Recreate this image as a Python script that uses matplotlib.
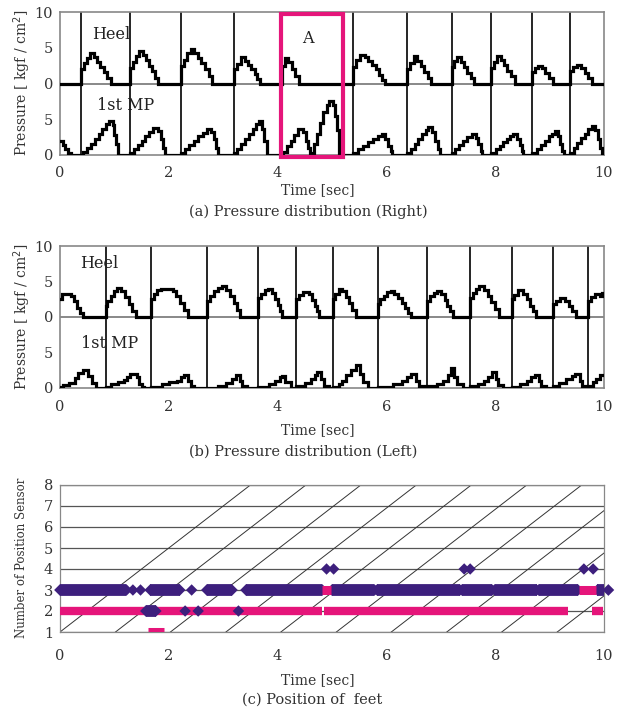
import matplotlib
matplotlib.use("Agg")
import matplotlib.pyplot as plt
from matplotlib.patches import Rectangle

plt.rcParams['font.family'] = ['DejaVu Serif']

# ---------------- data ----------------
# (a) Right foot
right_events = [0.38, 1.29, 2.22, 3.20, 5.39, 6.38, 7.20, 7.93, 8.68, 9.37]
right_heel_t = [0.00, 0.38, 0.44, 0.50, 0.55, 0.62, 0.68, 0.74, 0.80, 0.86, 0.94,
                1.29, 1.34, 1.40, 1.45, 1.52, 1.58, 1.64, 1.70, 1.75, 1.80,
                2.22, 2.28, 2.34, 2.40, 2.47, 2.54, 2.60, 2.67, 2.73, 2.80,
                3.20, 3.26, 3.32, 3.40, 3.46, 3.52, 3.58, 3.63, 3.68,
                4.09, 4.14, 4.20, 4.26, 4.32, 4.40,
                5.39, 5.45, 5.51, 5.60, 5.67, 5.74, 5.80, 5.86, 5.92, 5.97,
                6.38, 6.44, 6.50, 6.57, 6.63, 6.70, 6.76, 6.82,
                7.20, 7.25, 7.30, 7.37, 7.43, 7.49, 7.55, 7.61,
                7.93, 7.98, 8.03, 8.10, 8.16, 8.22, 8.29, 8.37,
                8.68, 8.73, 8.78, 8.86, 8.92, 8.98, 9.06,
                9.37, 9.43, 9.50, 9.58, 9.65, 9.71, 9.78, 10.0]
right_heel_v = [0, 2.0, 2.8, 3.6, 4.3, 3.7, 3.0, 2.3, 1.6, 0.8, 0,
                2.2, 3.0, 3.9, 4.6, 4.0, 3.3, 2.5, 1.7, 0.8, 0,
                2.4, 3.3, 4.2, 4.8, 4.3, 3.6, 2.8, 2.0, 1.0, 0,
                2.0, 2.7, 3.7, 3.2, 2.6, 2.0, 1.3, 0.6, 0,
                2.5, 3.6, 3.0, 2.0, 1.0, 0,
                2.3, 3.3, 4.0, 3.7, 3.2, 2.6, 2.0, 1.2, 0.5, 0,
                2.0, 2.9, 3.8, 3.1, 2.4, 1.6, 0.8, 0,
                2.3, 3.1, 3.7, 3.0, 2.3, 1.5, 0.7, 0,
                2.2, 3.0, 3.9, 3.3, 2.6, 1.8, 1.0, 0,
                1.6, 2.2, 2.5, 2.1, 1.5, 0.8, 0,
                1.7, 2.3, 2.6, 2.1, 1.5, 0.8, 0, 0]
right_mp_t = [0.00, 0.05, 0.10, 0.15, 0.20,
              0.43, 0.50, 0.57, 0.64, 0.71, 0.78, 0.85, 0.90, 0.97, 1.00, 1.03, 1.07,
              1.29, 1.36, 1.43, 1.50, 1.57, 1.64, 1.71, 1.80, 1.85, 1.89, 1.93,
              2.22, 2.30, 2.38, 2.46, 2.54, 2.62, 2.70, 2.78, 2.83, 2.87, 2.91,
              3.20, 3.26, 3.33, 3.40, 3.47, 3.54, 3.60, 3.66, 3.71, 3.75, 3.80,
              4.10, 4.17, 4.24, 4.31, 4.38, 4.47, 4.52, 4.56, 4.60, 4.66, 4.72, 4.78,
              4.84, 4.90, 4.95, 5.01, 5.06, 5.10, 5.13,
              5.39, 5.48, 5.57, 5.66, 5.75, 5.84, 5.92, 5.98, 6.03, 6.08, 6.11,
              6.38, 6.45, 6.52, 6.59, 6.66, 6.72, 6.77, 6.84, 6.90, 6.95, 6.99,
              7.20, 7.27, 7.34, 7.41, 7.48, 7.57, 7.64, 7.69, 7.73, 7.76,
              7.93, 8.01, 8.08, 8.15, 8.22, 8.28, 8.33, 8.40, 8.45, 8.49, 8.52,
              8.68, 8.76, 8.84, 8.91, 8.98, 9.04, 9.10, 9.16, 9.20, 9.23, 9.26,
              9.37, 9.44, 9.51, 9.58, 9.65, 9.71, 9.78, 9.84, 9.89, 9.93, 9.96, 10.0]
right_mp_v = [2.0, 1.4, 0.8, 0.3, 0,
              0.4, 1.0, 1.6, 2.3, 3.0, 3.7, 4.3, 4.8, 4.2, 2.8, 1.5, 0,
              0.3, 0.8, 1.4, 2.0, 2.6, 3.2, 3.8, 3.3, 2.2, 1.0, 0,
              0.3, 0.8, 1.4, 2.0, 2.6, 3.1, 3.6, 3.2, 2.2, 1.0, 0,
              0.3, 0.9, 1.6, 2.3, 3.0, 3.7, 4.4, 4.8, 3.6, 2.0, 0,
              0.4, 1.2, 2.0, 2.8, 3.7, 3.2, 2.0, 1.0, 0.3, 1.5, 3.0, 4.5,
              6.0, 7.0, 7.5, 7.0, 5.5, 3.5, 0,
              0.3, 0.8, 1.3, 1.8, 2.3, 2.6, 2.9, 2.3, 1.3, 0.5, 0,
              0.3, 0.9, 1.6, 2.3, 3.0, 3.5, 3.9, 3.2, 2.0, 0.9, 0,
              0.3, 0.8, 1.4, 2.0, 2.5, 3.0, 2.4, 1.5, 0.6, 0,
              0.3, 0.8, 1.3, 1.8, 2.3, 2.6, 2.9, 2.3, 1.4, 0.6, 0,
              0.3, 0.8, 1.4, 2.0, 2.6, 3.0, 3.4, 2.7, 1.6, 0.6, 0,
              0.3, 1.0, 1.7, 2.4, 3.0, 3.6, 4.1, 3.5, 2.3, 1.0, 0.2, 0.2]

# (b) Left foot
left_events = [0.84, 1.68, 2.70, 3.64, 4.34, 5.01, 5.84, 6.75, 7.54, 8.30, 9.06, 9.71]
left_heel_t = [0.00, 0.04, 0.20, 0.26, 0.32, 0.37, 0.42,
               0.84, 0.87, 0.93, 0.99, 1.05, 1.13, 1.20, 1.27, 1.33, 1.40,
               1.68, 1.73, 1.79, 1.86, 2.07, 2.14, 2.21, 2.28, 2.36,
               2.70, 2.76, 2.83, 2.91, 2.98, 3.06, 3.13, 3.19, 3.25, 3.31,
               3.64, 3.70, 3.77, 3.83, 3.89, 3.95, 4.01, 4.05, 4.09,
               4.34, 4.40, 4.47, 4.58, 4.63, 4.68, 4.72, 4.76,
               5.01, 5.06, 5.12, 5.19, 5.25, 5.31, 5.37, 5.44,
               5.84, 5.89, 5.95, 6.02, 6.08, 6.14, 6.21, 6.28, 6.34, 6.40, 6.46,
               6.75, 6.80, 6.87, 6.93, 7.01, 7.07, 7.12, 7.17, 7.22,
               7.54, 7.59, 7.65, 7.71, 7.79, 7.86, 7.93, 8.00, 8.07,
               8.30, 8.35, 8.42, 8.52, 8.58, 8.64, 8.70, 8.75,
               9.06, 9.12, 9.19, 9.28, 9.35, 9.42, 9.49,
               9.71, 9.76, 9.84, 9.93, 9.97, 10.0]
left_heel_v = [2.5, 3.2, 2.9, 2.3, 1.3, 0.5, 0,
               1.6, 2.2, 2.9, 3.6, 4.1, 3.6, 2.8, 1.8, 0.9, 0,
               2.5, 3.3, 3.8, 4.0, 3.7, 3.0, 2.0, 1.0, 0,
               2.3, 3.0, 3.6, 4.1, 4.4, 3.8, 3.0, 2.0, 1.0, 0,
               2.7, 3.3, 3.8, 4.0, 3.4, 2.6, 1.7, 0.8, 0,
               2.5, 3.1, 3.5, 3.2, 2.4, 1.6, 0.8, 0,
               2.5, 3.3, 4.0, 3.6, 2.8, 2.0, 1.0, 0,
               1.8, 2.5, 3.0, 3.5, 3.6, 3.3, 2.7, 2.0, 1.2, 0.5, 0,
               2.2, 2.9, 3.4, 3.7, 3.2, 2.4, 1.6, 0.8, 0,
               2.7, 3.4, 3.9, 4.3, 3.8, 3.0, 2.1, 1.1, 0,
               2.5, 3.1, 3.8, 3.3, 2.5, 1.6, 0.8, 0,
               1.8, 2.3, 2.7, 2.3, 1.6, 0.8, 0,
               2.2, 2.8, 3.3, 3.0, 3.4, 3.4]
left_mp_t = [0.00, 0.05, 0.17, 0.27, 0.34, 0.42, 0.52, 0.58, 0.67,
             0.84, 0.93, 1.07, 1.18, 1.23, 1.29, 1.41, 1.46, 1.50, 1.54,
             1.68, 1.87, 2.01, 2.15, 2.22, 2.28, 2.36, 2.40, 2.46,
             2.70, 2.91, 3.06, 3.17, 3.24, 3.31, 3.35, 3.44,
             3.64, 3.85, 3.96, 4.05, 4.09, 4.14, 4.24,
             4.34, 4.50, 4.61, 4.68, 4.72, 4.79, 4.85, 4.94,
             5.01, 5.12, 5.19, 5.26, 5.35, 5.44, 5.52, 5.57, 5.66,
             5.84, 6.13, 6.28, 6.38, 6.46, 6.55, 6.60, 6.70,
             6.75, 6.93, 7.04, 7.13, 7.18, 7.24, 7.30, 7.40,
             7.54, 7.69, 7.80, 7.87, 7.94, 8.02, 8.06, 8.14,
             8.30, 8.45, 8.59, 8.66, 8.73, 8.81, 8.85, 8.94,
             9.06, 9.17, 9.31, 9.42, 9.46, 9.55, 9.59, 9.67,
             9.71, 9.79, 9.86, 9.93, 10.0]
left_mp_v = [0.2, 0.4, 0.7, 1.4, 2.1, 2.6, 1.7, 0.7, 0,
             0.2, 0.5, 0.8, 1.1, 1.6, 2.0, 1.5, 0.6, 0.2, 0,
             0.2, 0.5, 0.8, 1.0, 1.5, 1.9, 1.0, 0.3, 0,
             0.0, 0.3, 0.7, 1.2, 1.8, 1.0, 0.3, 0,
             0.2, 0.5, 1.0, 1.5, 1.7, 0.8, 0,
             0.3, 0.7, 1.2, 1.8, 2.2, 1.2, 0.3, 0,
             0.2, 0.5, 1.0, 1.8, 2.5, 3.2, 2.0, 0.8, 0,
             0.2, 0.5, 1.0, 1.5, 2.0, 1.0, 0.3, 0,
             0.3, 0.6, 1.0, 1.8, 2.8, 1.5, 0.5, 0,
             0.3, 0.6, 1.0, 1.6, 2.3, 1.2, 0.4, 0,
             0.2, 0.5, 1.0, 1.5, 1.9, 1.0, 0.3, 0,
             0.3, 0.7, 1.2, 1.7, 2.0, 1.0, 0.3, 0,
             0.3, 0.8, 1.3, 1.8, 1.8]

# (c) Position of feet: (start, end, sensor)
purple_bars = [(0.00, 1.22, 3), (1.66, 2.20, 3), (2.70, 3.16, 3), (3.42, 4.82, 3),
               (5.00, 5.78, 3), (5.83, 7.35, 3), (7.39, 7.94, 3), (7.99, 8.76, 3),
               (8.80, 9.52, 3), (9.88, 10.08, 3), (1.58, 1.76, 2)]
purple_dots_t = [1.34, 1.48, 2.42, 4.90, 5.03, 7.43, 7.54, 9.63, 9.80, 2.30, 2.54, 3.28]
purple_dots_y = [3, 3, 3, 4, 4, 4, 4, 4, 4, 2, 2, 2]
pink_bars = [(0.00, 4.82, 2), (4.86, 9.34, 2), (9.78, 9.98, 2),
             (4.82, 4.98, 3), (9.54, 9.86, 3), (1.62, 1.91, 1)]
diag_starts = [0.0, 1.02, 2.03, 3.05, 4.06, 5.08, 6.09, 7.11, 8.12, 9.14]

xticks = [0, 2, 4, 6, 8, 10]
p_ticks = [0, 5, 10, 15, 20]
p_ticklabels = ['0', '5', '0', '5', '10']

# ---------------- layout ----------------
W, H = 617, 711
fig = plt.figure(figsize=(W / 100, H / 100), dpi=100)


def rect(l, t, r, b):
    return [l / W, 1 - b / H, (r - l) / W, (b - t) / H]


def ftext(x, y, s, **kw):
    fig.text(x / W, 1 - y / H, s, ha='center', va='center', **kw)


TXT = '#333333'
PINK = '#e5157a'
PURPLE = '#3d1f7d'
FRAME = '#888888'


def pressure_axes(ax, heel_t, heel_v, mp_t, mp_v, events, pad):
    ax.set_xlim(0, 10)
    ax.set_ylim(0, 20)
    ax.axhline(10, color=FRAME, lw=1.4, zorder=1)
    for t in events:
        ax.axvline(t, color='black', lw=1.2, zorder=2)
    ax.plot(heel_t, [v + 10 for v in heel_v], color='black', lw=2.3,
            drawstyle='steps-post', zorder=3, solid_joinstyle='miter')
    ax.plot(mp_t, mp_v, color='black', lw=2.3, drawstyle='steps-post',
            zorder=3, solid_joinstyle='miter')
    ax.set_xticks(xticks)
    ax.set_xticklabels([str(x) for x in xticks])
    ax.set_yticks(p_ticks)
    ax.set_yticklabels(p_ticklabels)
    ax.tick_params(length=0, labelsize=10.5, labelcolor=TXT)
    ax.tick_params(axis='x', pad=pad)
    ax.tick_params(axis='y', pad=5)
    for s in ax.spines.values():
        s.set_color(FRAME)
        s.set_linewidth(1.2)


# (a)
axA = fig.add_axes(rect(60, 12, 604, 155))
pressure_axes(axA, right_heel_t, right_heel_v, right_mp_t, right_mp_v, right_events, 8)
axA.text(0.95, 16.9, 'Heel', fontsize=11.5, color='#222222', ha='center', va='center')
axA.text(1.2, 6.9, '1st MP', fontsize=11.5, color='#222222', ha='center', va='center')
axA.text(4.55, 16.3, 'A', fontsize=11.5, color='#222222', ha='center', va='center')
axA.add_patch(Rectangle((4.06, -0.25), 1.15, 19.95, fill=False, edgecolor=PINK,
                        lw=3.0, zorder=5, clip_on=False))
ftext(22, 83, 'Pressure [ kgf / cm$^2$]', rotation=90, fontsize=10, color=TXT)
ftext(318, 190, 'Time [sec]', fontsize=10, color=TXT)
ftext(308, 212, '(a) Pressure distribution (Right)', fontsize=10.5, color=TXT)

# (b)
axB = fig.add_axes(rect(60, 246, 604, 388))
pressure_axes(axB, left_heel_t, left_heel_v, left_mp_t, left_mp_v, left_events, 9)
axB.text(0.72, 17.5, 'Heel', fontsize=11.5, color='#222222', ha='center', va='center')
axB.text(0.92, 6.2, '1st MP', fontsize=11.5, color='#222222', ha='center', va='center')
ftext(22, 317, 'Pressure [ kgf / cm$^2$]', rotation=90, fontsize=10, color=TXT)
ftext(318, 430, 'Time [sec]', fontsize=10, color=TXT)
ftext(303, 452, '(b) Pressure distribution (Left)', fontsize=10.5, color=TXT)

# (c)
axC = fig.add_axes(rect(60, 485, 604, 632))
axC.set_xlim(0, 10)
axC.set_ylim(1, 8)
for y in range(1, 9):
    axC.axhline(y, color='#555555', lw=0.9, zorder=1)
for s0 in diag_starts:
    axC.plot([s0, s0 + 3.5], [1, 8], color='#333333', lw=0.7, zorder=1)
for (a, b, y) in pink_bars[:3]:
    axC.plot([a, b], [y, y], color=PINK, lw=6.0, solid_capstyle='butt', zorder=3)
for (a, b, y) in purple_bars:
    axC.plot([a, b], [y, y], color=PURPLE, lw=8.5, solid_capstyle='butt', zorder=4)
    axC.scatter([a, b], [y, y], marker='D', s=36, color=PURPLE,
                edgecolors='none', zorder=4, clip_on=False)
axC.scatter(purple_dots_t, purple_dots_y, marker='D', s=34, color=PURPLE,
            edgecolors='none', zorder=4)
for (a, b, y) in pink_bars[3:]:
    axC.plot([a, b], [y, y], color=PINK, lw=6.5, solid_capstyle='butt', zorder=5)
axC.set_xticks(xticks)
axC.set_xticklabels([str(x) for x in xticks])
axC.set_yticks(range(1, 9))
axC.set_yticklabels([str(y) for y in range(1, 9)])
axC.tick_params(length=0, labelsize=10.5, labelcolor=TXT)
axC.tick_params(axis='x', pad=12)
axC.tick_params(axis='y', pad=5)
for s in axC.spines.values():
    s.set_color(FRAME)
    s.set_linewidth(0.9)
ftext(22, 558, 'Number of Position Sensor', rotation=90, fontsize=8.5, color=TXT)
ftext(318, 680, 'Time [sec]', fontsize=10, color=TXT)
ftext(312, 700, '(c) Position of  feet', fontsize=10.5, color=TXT)

fig.savefig('out.png', dpi=100)
